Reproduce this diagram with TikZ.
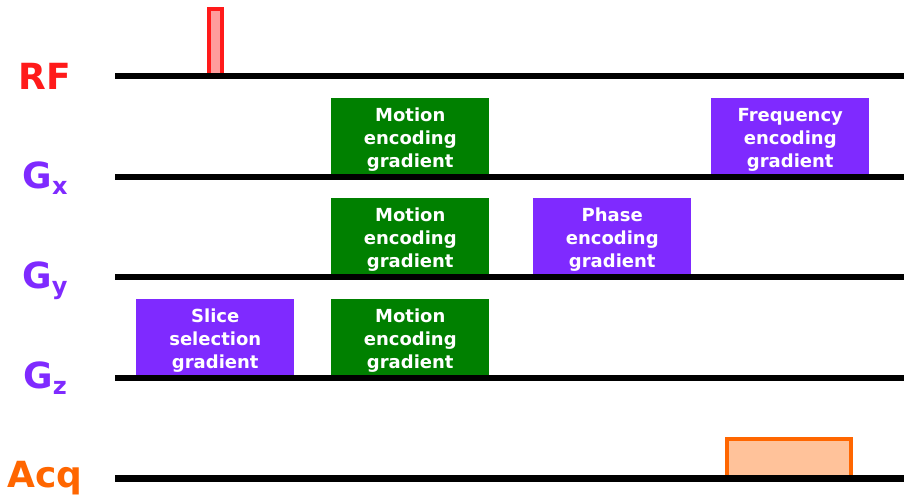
\documentclass[tikz,border=0pt]{standalone}
\usepackage{fontspec}
\setmainfont{DejaVu Sans}
\definecolor{mgreen}{HTML}{008000}
\definecolor{mpurple}{HTML}{7F2AFF}
\definecolor{rfred}{HTML}{FF1A1A}
\definecolor{rffill}{HTML}{FF9C9C}
\definecolor{acqor}{HTML}{FF6600}
\definecolor{acqfill}{HTML}{FFC29A}
\tikzset{
  gradbox/.style={minimum width=118.5pt, minimum height=59.25pt, inner sep=0pt,
    anchor=south west},
  motionbox/.style={gradbox, fill=mgreen},
  purplebox/.style={gradbox, fill=mpurple},
  boxtext/.style={text=white, align=center, inner sep=0pt,
    font=\bfseries\fontsize{13.5}{17.25}\selectfont},
  axisline/.style={line width=4.5pt, black},
  chlabel/.style={anchor=base, inner sep=0pt, font=\bfseries\fontsize{27}{27}\selectfont},
}
\newcommand{\subl}[1]{\lower4pt\hbox{\fontsize{18}{18}\selectfont #1}}
\begin{document}
\begin{tikzpicture}[x=0.75pt,y=-0.75pt]
\useasboundingbox (0,0) rectangle (904,495);
% gradient boxes
\node[motionbox] (mx) at (331,177) {};
\node[purplebox] (fx) at (711,177) {};
\node[motionbox] (my) at (331,277) {};
\node[purplebox] (py) at (533,277) {};
\node[purplebox] (sz) at (136,378) {};
\node[motionbox] (mz) at (331,378) {};
\node[boxtext] (mxt) at ([yshift=-2pt]mx.center) {Motion\\encoding\\gradient};
\node[boxtext] (fxt) at ([yshift=-2pt]fx.center) {Frequency\\encoding\\gradient};
\node[boxtext] (myt) at ([yshift=-2pt]my.center) {Motion\\encoding\\gradient};
\node[boxtext] (pyt) at ([yshift=-2pt]py.center) {Phase\\encoding\\gradient};
\node[boxtext] (szt) at ([yshift=-2pt]sz.center) {Slice\\selection\\gradient};
\node[boxtext] (mzt) at ([yshift=-2pt]mz.center) {Motion\\encoding\\gradient};
% RF pulse
\draw[rfred, fill=rffill, line width=3pt] (209,77) rectangle (222,9);
% acquisition window
\draw[acqor, fill=acqfill, line width=3.2pt] (727,478) rectangle (851,439.3);
% axis lines
\draw[axisline] (115,76.5) -- (904,76.5);
\draw[axisline] (115,177) -- (904,177);
\draw[axisline] (115,277) -- (904,277);
\draw[axisline] (115,378) -- (904,378);
\draw[axisline] (115,478.5) -- (904,478.5);
% labels
\node[chlabel, text=rfred] (rf) at (45,90) {RF};
\node[chlabel, text=mpurple] (gx) at (45,189) {G\subl{x}};
\node[chlabel, text=mpurple] (gy) at (45,289) {G\subl{y}};
\node[chlabel, text=mpurple] (gz) at (45,389) {G\subl{z}};
\node[chlabel, text=acqor] (acq) at (45,488) {Acq};
\end{tikzpicture}
\end{document}
